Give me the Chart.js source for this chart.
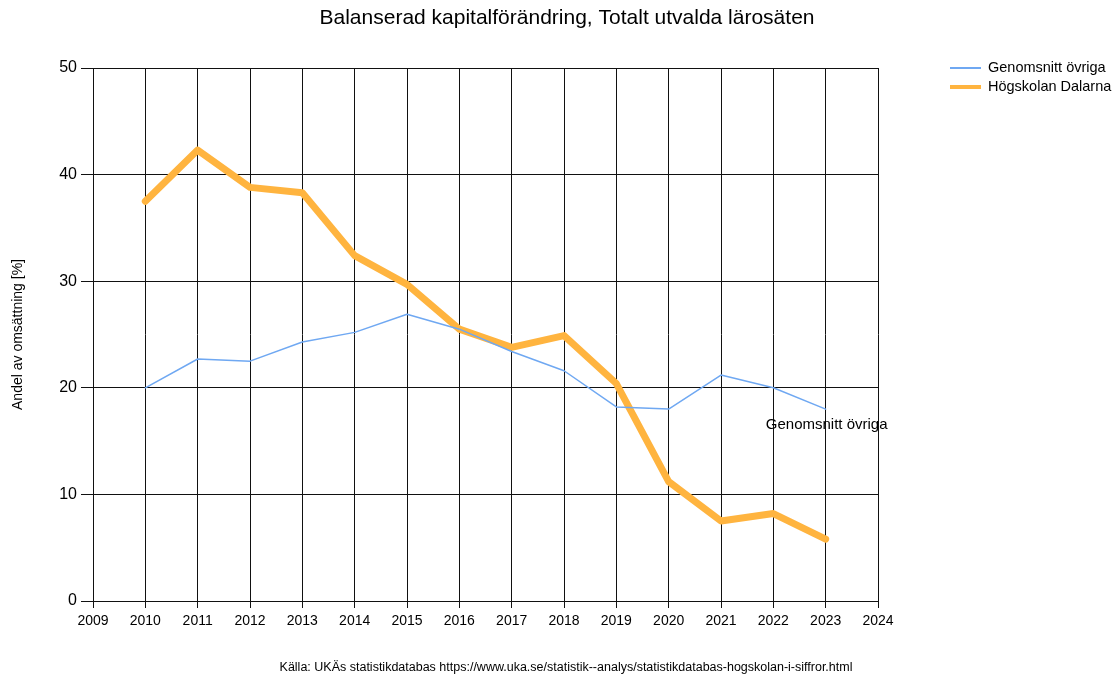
<!DOCTYPE html>
<html>
<head>
<meta charset="utf-8">
<script src="https://cdn.jsdelivr.net/npm/chart.js@4"></script>
<style>
  html, body { margin: 0; padding: 0; background: #fff; }
  #wrap { width: 1118px; height: 679px; position: relative; }
</style>
</head>
<body>
<div id="wrap"><canvas id="c"></canvas></div>
<script>
/* Balanserad kapitalförändring */
const TITLE = 'Balanserad kapitalförändring, Totalt utvalda lärosäten';
const SOURCE = 'Källa: UKÄs statistikdatabas https://www.uka.se/statistik--analys/statistikdatabas-hogskolan-i-siffror.html';
const Y_TITLE = 'Andel av omsättning [%]';

const YEARS = [2010, 2011, 2012, 2013, 2014, 2015, 2016, 2017, 2018, 2019, 2020, 2021, 2022, 2023];
const AVG_OTHERS = [20.0, 22.7, 22.5, 24.3, 25.2, 26.9, 25.5, 23.4, 21.6, 18.2, 18.0, 21.2, 20.0, 18.0];
const DALARNA = [37.5, 42.3, 38.8, 38.3, 32.4, 29.7, 25.5, 23.8, 24.9, 20.4, 11.2, 7.5, 8.2, 5.8];

const X_MIN = 2009, X_MAX = 2024;
const Y_MIN = 0, Y_MAX = 50, Y_STEP = 10;

const BLUE = '#6FA8F2';
const ORANGE = '#FFB43F';
const FONT = '"Liberation Sans", Arial, sans-serif';

const pts = (vals) => YEARS.map((y, i) => ({ x: y, y: vals[i] }));

const SERIES = [
  { label: 'Genomsnitt övriga', data: pts(AVG_OTHERS), color: BLUE, width: 1.5 },
  { label: 'Högskolan Dalarna', data: pts(DALARNA), color: ORANGE, width: 7 }
];

/* title, legend, source line and end label */
const decor = {
  id: 'decor',
  afterDraw(chart) {
    const { ctx } = chart;
    ctx.save();
    ctx.fillStyle = '#000';
    ctx.textBaseline = 'middle';

    ctx.font = '21px ' + FONT;
    ctx.textAlign = 'center';
    ctx.fillText(TITLE, 567, 18);

    ctx.font = '12.5px ' + FONT;
    ctx.fillText(SOURCE, 566, 668);

    // legend
    ctx.font = '14.5px ' + FONT;
    ctx.textAlign = 'left';
    SERIES.forEach((s, i) => {
      const y = 68 + i * 19;
      ctx.strokeStyle = s.color;
      ctx.lineWidth = i === 0 ? 2 : 4;
      ctx.beginPath(); ctx.moveTo(950, y); ctx.lineTo(981, y); ctx.stroke();
      ctx.fillStyle = '#000';
      ctx.fillText(s.label, 988, y);
    });

    // label at the end of the average line
    const meta = chart.getDatasetMeta(0);
    const last = meta.data[meta.data.length - 1];
    ctx.font = '15px ' + FONT;
    ctx.textAlign = 'center';
    ctx.fillText(SERIES[0].label, last.x + 1, last.y + 16);
    ctx.restore();
  }
};

new Chart(document.getElementById('c'), {
  type: 'line',
  data: {
    datasets: SERIES.map(s => ({
      label: s.label, data: s.data,
      borderColor: s.color, backgroundColor: s.color,
      borderWidth: s.width, pointRadius: 0, tension: 0,
      borderJoinStyle: 'round', borderCapStyle: 'round'
    }))
  },
  options: {
    responsive: true, maintainAspectRatio: false, animation: false,
    layout: { padding: { left: 0, top: 68, right: 240, bottom: 0 } },
    plugins: { legend: { display: false }, tooltip: { enabled: false } },
    scales: {
      x: {
        type: 'linear', min: X_MIN, max: X_MAX,
        afterFit: s => { s.height = 78; },
        ticks: { stepSize: 1, color: '#000', padding: 5, font: { family: FONT, size: 14 },
                 callback: v => String(v), maxRotation: 0, autoSkip: false },
        grid: { color: '#111', lineWidth: 1, tickLength: 7, tickColor: '#111' },
        border: { color: '#111' }
      },
      y: {
        min: Y_MIN, max: Y_MAX,
        afterFit: s => { s.width = 93; },
        ticks: { stepSize: Y_STEP, color: '#000', padding: 4, font: { family: FONT, size: 16 } },
        grid: { color: '#111', lineWidth: 1, tickLength: 12, tickColor: '#111' },
        border: { color: '#111' },
        title: { display: true, text: Y_TITLE, color: '#000', font: { family: FONT, size: 14 },
                 padding: { top: 10, bottom: 0 } }
      }
    }
  },
  plugins: [decor]
});
</script>
</body>
</html>
